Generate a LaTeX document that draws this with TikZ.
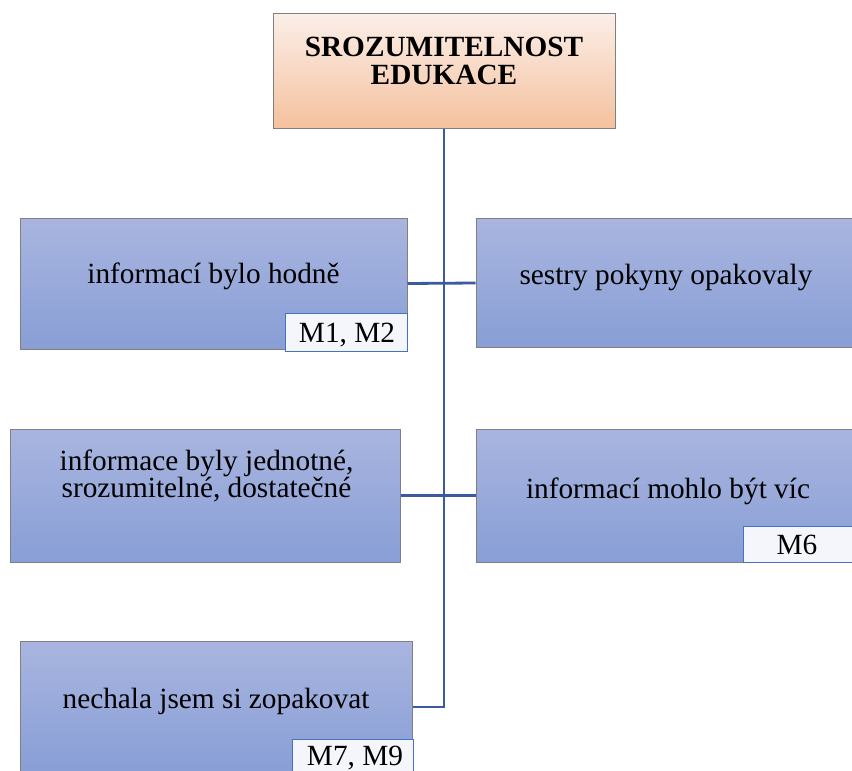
\documentclass[tikz,border=0pt]{standalone}
\usepackage{fontspec}
\setmainfont{Liberation Serif}
\definecolor{bluetop}{RGB}{169,181,223}
\definecolor{bluebot}{RGB}{136,158,214}
\definecolor{peachtop}{RGB}{251,239,232}
\definecolor{peachbot}{RGB}{244,193,158}
\definecolor{boxline}{RGB}{128,128,128}
\definecolor{conn}{RGB}{59,91,160}
\definecolor{labfill}{RGB}{244,246,251}
\definecolor{labline}{RGB}{68,114,196}
\tikzset{
  bluebox/.style={draw=boxline, line width=1pt, top color=bluetop, bottom color=bluebot, minimum width=#1, inner sep=0pt},
  topbox/.style={draw=boxline, line width=1pt, top color=peachtop, bottom color=peachbot, inner sep=0pt},
  btext/.style={font=\fontsize{29.3}{23.5}\selectfont, align=center, inner sep=0pt},
  labbox/.style={draw=labline, line width=1pt, fill=labfill, inner sep=0pt},
  connector/.style={draw=conn, line width=2.8pt}
}
\begin{document}
\begin{tikzpicture}[x=1pt,y=-1pt]
\useasboundingbox (0,0) rectangle (852,771);
% boxes
\node[topbox, minimum width=342pt, minimum height=115pt] (top) at (444,70.5) {};
\node[bluebox=387pt, minimum height=131pt] (b1) at (213.5,283.5) {};
\node[bluebox=377pt, minimum height=129pt] (b2) at (664.5,283) {};
\node[bluebox=390pt, minimum height=133pt] (b3) at (205,495.5) {};
\node[bluebox=377pt, minimum height=133pt] (b4) at (664.5,495.5) {};
\node[bluebox=392pt, minimum height=132pt] (b5) at (216,707) {};
% connectors
\draw[connector] (b1.east) -- (b2.west);
\draw[connector] (b3.east) -- (b4.west);
\draw[connector] (top.south) -- (top.south |- b5.east) -- (b5.east);
% texts
\node[btext, font=\bfseries\fontsize{29.3}{28}\selectfont] (tt) at (444,61) {SROZUMITELNOST\\EDUKACE};
\node[btext, anchor=base] (t1) at (213.5,283) {informací bylo hodně};
\node[btext, anchor=base] (t2) at (666,284) {sestry pokyny opakovaly};
\node[btext] (t3) at (206.5,476) {informace byly jednotné,\\srozumitelné, dostatečné};
\node[btext, anchor=base] (t4) at (668,498) {informací mohlo být víc};
\node[btext, anchor=base] (t5) at (216,708) {nechala jsem si zopakovat};
% labels
\node[labbox, minimum width=122pt, minimum height=38pt] (l1) at (346,332) {};
\node[btext, anchor=base] (l1t) at (347,342) {M1, M2};
\node[labbox, minimum width=110pt, minimum height=36pt] (l2) at (798,544) {};
\node[btext, anchor=base] (l2t) at (797,554) {M6};
\node[labbox, minimum width=121pt, minimum height=36pt] (l3) at (352.5,757) {};
\node[btext, anchor=base] (l3t) at (355,765.5) {M7, M9};
\end{tikzpicture}
\end{document}
